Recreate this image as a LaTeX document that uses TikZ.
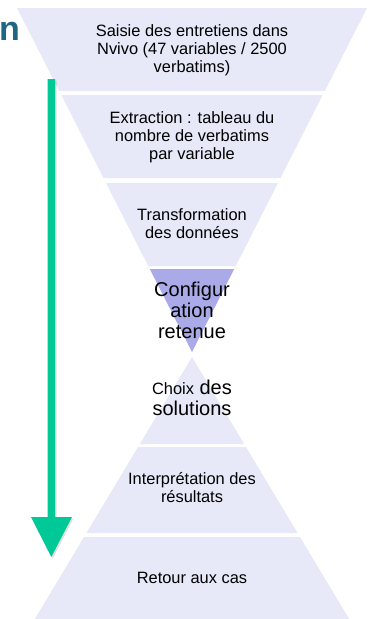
\documentclass[tikz,border=0pt]{standalone}
\usepackage{fontspec}
\setmainfont{Liberation Sans}
\definecolor{bandfill}{RGB}{231,232,248}
\definecolor{keyfill}{RGB}{170,170,232}
\definecolor{flowgreen}{RGB}{0,200,150}
\definecolor{titleblue}{RGB}{31,102,132}

\begin{document}
\begin{tikzpicture}[x=1pt,y=-1pt,
  steptext/.style={align=center,inner sep=0pt,font=\fontsize{16.4}{18}\selectfont},
  bigtext/.style={align=center,inner sep=0pt,font=\fontsize{20}{21}\selectfont}]

\useasboundingbox (0,0) rectangle (368,619);

% funnel (top)
\fill[bandfill] (17,8) -- (367,8) -- (324.8,91) -- (59.2,91) -- cycle;
\fill[bandfill] (61.3,95) -- (322.7,95) -- (280.5,178) -- (103.5,178) -- cycle;
\fill[bandfill] (106,183) -- (278,183) -- (235.8,266) -- (148.2,266) -- cycle;
\fill[keyfill] (149.8,269) -- (234.2,269) -- (192,352) -- cycle;

% pyramid (bottom)
\fill[bandfill] (192,357) -- (244.2,444) -- (139.8,444) -- cycle;
\fill[bandfill] (138,447) -- (246,447) -- (297.6,533) -- (86.4,533) -- cycle;
\fill[bandfill] (84,537) -- (300,537) -- (349.2,619) -- (34.8,619) -- cycle;

% green arrow
\fill[black,opacity=0.12,xshift=1.5,yshift=-1.5] (47.5,79) -- (55,79) -- (55,517) -- (72,517)
  -- (51.3,557) -- (31,517) -- (47.5,517) -- cycle;
\fill[flowgreen] (47.5,79) -- (55,79) -- (55,517) -- (72,517)
  -- (51.3,557) -- (31,517) -- (47.5,517) -- cycle;

\node[anchor=base west,inner sep=0pt,text=titleblue,font=\bfseries\fontsize{34}{34}\selectfont] (titleend) at (-1,40) {n};

\node[steptext] (saisie) at (192,50) {Saisie des entretiens dans\\Nvivo (47 variables / 2500\\verbatims)};
\node[steptext] (extraction) at (192,137) {Extraction : tableau du\\nombre de verbatims\\par variable};
\node[steptext] (transfo) at (192,224) {Transformation\\des donn\'ees};
\node[bigtext] (config) at (192,310) {Configur\\ation\\retenue};
\node[bigtext] (choix) at (192,398) {{\fontsize{16.4}{18}\selectfont Choix} des\\solutions};
\node[steptext] (interp) at (192,488) {Interpr\'etation des\\r\'esultats};
\node[steptext] (retour) at (192,578) {Retour aux cas};

\end{tikzpicture}
\end{document}
